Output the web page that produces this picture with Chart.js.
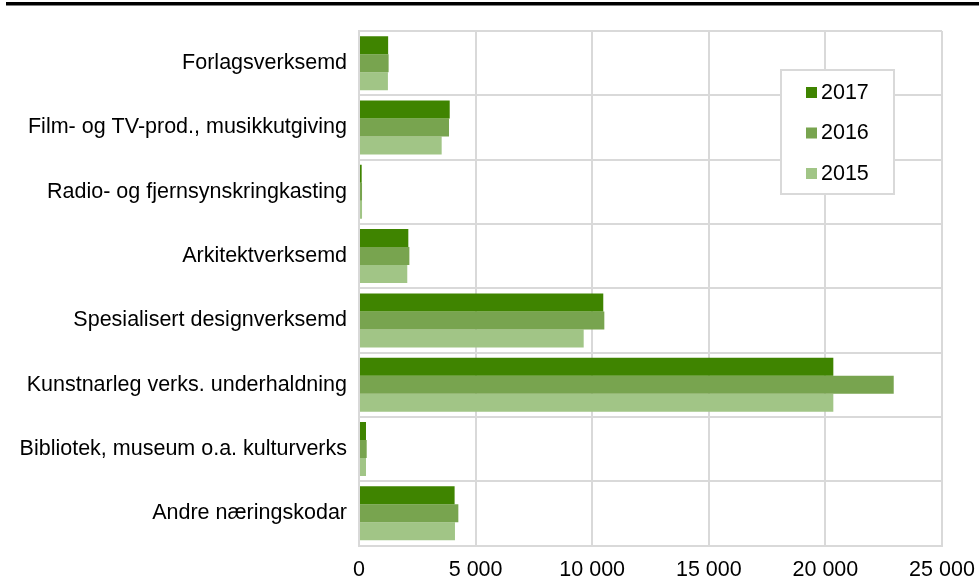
<!DOCTYPE html>
<html>
<head>
<meta charset="utf-8">
<script src="https://cdn.jsdelivr.net/npm/chart.js@4/dist/chart.umd.min.js"></script>
<style>
  html, body { margin: 0; padding: 0; background: #fff; }
  #wrap { width: 979px; height: 578px; position: relative; }
</style>
</head>
<body>
<div id="wrap"><canvas id="naering_chart"></canvas></div>
<script>
const categories = [
  "Forlagsverksemd",
  "Film- og TV-prod., musikkutgiving",
  "Radio- og fjernsynskringkasting",
  "Arkitektverksemd",
  "Spesialisert designverksemd",
  "Kunstnarleg verks. underhaldning",
  "Bibliotek, museum o.a. kulturverks",
  "Andre næringskodar"
];
const values2017 = [1250, 3890, 115, 2115, 10475, 20340, 300, 4100];
const values2016 = [1270, 3860, 130, 2160, 10520, 22930, 330, 4260];
const values2015 = [1240, 3545, 130, 2070, 9635, 20340, 300, 4115];
const xTicks = [0, 5000, 10000, 15000, 20000, 25000];

const gridColor = "#d9d9d9";
const fontFamily = "'Liberation Sans', Arial, sans-serif";
const fontSize = 21.5;

const fmt = (v) => String(v).replace(/\B(?=(\d{3})+(?!\d))/g, " ");

// black rule across the top of the figure
const topRule = {
  id: "topRule",
  beforeDraw: (chart) => {
    const c = chart.ctx;
    c.save();
    c.fillStyle = "#000";
    c.fillRect(6, 2, chart.width - 6, 3.5);
    c.restore();
  },
};

// boxed legend inside the plot, top right
const boxLegend = {
  id: "boxLegend",
  afterDraw: (chart) => {
    const c = chart.ctx;
    const area = chart.chartArea;
    const x = area.right - 161;
    const y = area.top + 39;
    c.save();
    c.fillStyle = "#fff";
    c.fillRect(x, y, 113, 124);
    c.strokeStyle = gridColor;
    c.lineWidth = 2;
    c.strokeRect(x, y, 113, 124);
    c.font = fontSize + "px " + fontFamily;
    c.textBaseline = "middle";
    chart.data.datasets.forEach((ds, i) => {
      const cy = y + 22 + i * 40.5;
      c.fillStyle = ds.backgroundColor;
      c.fillRect(x + 25, cy - 5, 11, 11);
      c.fillStyle = "#000";
      c.fillText(ds.label, x + 40, cy + 1);
    });
    c.restore();
  },
};

new Chart(document.getElementById("naering_chart").getContext("2d"), {
  type: "bar",
  data: {
    labels: categories,
    datasets: [
      { label: "2017", data: values2017, backgroundColor: "#3f8400" },
      { label: "2016", data: values2016, backgroundColor: "#78a44f" },
      { label: "2015", data: values2015, backgroundColor: "#a1c586" },
    ],
  },
  options: {
    indexAxis: "y",
    responsive: true,
    maintainAspectRatio: false,
    animation: false,
    datasets: {
      bar: { categoryPercentage: 0.84, barPercentage: 1.0 },
    },
    layout: {
      padding: { top: 31, right: 37, left: 0, bottom: 0 },
    },
    plugins: {
      legend: { display: false },
      tooltip: { enabled: false },
    },
    scales: {
      x: {
        min: 0,
        max: 25000,
        afterBuildTicks: (scale) => {
          scale.ticks = xTicks.map((v) => ({ value: v }));
        },
        afterFit: (scale) => {
          scale.height = 32.5;
          scale.paddingRight = 0;
          scale.paddingLeft = 0;
        },
        grid: { color: gridColor, lineWidth: 2, drawTicks: false },
        border: { color: gridColor, width: 2 },
        ticks: {
          color: "#000",
          padding: 12,
          maxRotation: 0,
          font: { size: fontSize, family: fontFamily },
          callback: (v) => fmt(v),
        },
      },
      y: {
        afterFit: (scale) => {
          scale.width = 359;
        },
        grid: { color: gridColor, lineWidth: 2, drawTicks: false, offset: true },
        border: { color: gridColor, width: 2 },
        ticks: {
          color: "#000",
          padding: 12,
          font: { size: fontSize, family: fontFamily },
        },
      },
    },
  },
  plugins: [topRule, boxLegend],
});
</script>
</body>
</html>
